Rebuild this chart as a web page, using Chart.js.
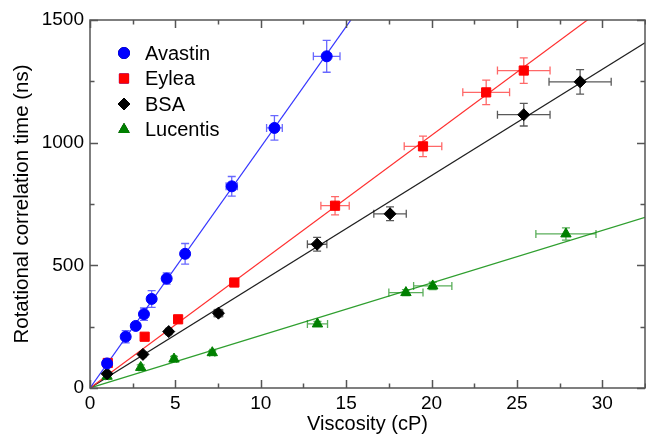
<!DOCTYPE html>
<html>
<head>
<meta charset="utf-8">
<script src="https://cdn.jsdelivr.net/npm/chart.js@4/dist/chart.umd.min.js"></script>
<style>
  html, body { margin: 0; padding: 0; background: #fff; }
  #wrap { width: 646px; height: 440px; }
</style>
</head>
<body>
<div id="wrap"><canvas id="chart" width="646" height="440"></canvas></div>
<script>
// series names and fit slopes (ns per cP)
const names = ['Avastin', 'Eylea', 'BSA', 'Lucentis']
const slopes = [98.2, 51.5, 43.3, 21.4]

const avastinX = [1.0, 2.09, 2.68, 3.16, 3.61, 4.49, 5.57, 8.3, 10.8, 13.86]
const avastinY = [100, 209, 253, 301, 363, 446, 547, 822, 1060, 1352]
const avastinXErr = [0.1, 0.15, 0.12, 0.15, 0.2, 0.15, 0.2, 0.33, 0.46, 0.78]
const avastinYErr = [15, 25, 12, 25, 34, 23, 42, 40, 50, 65]

const eyleaX = [1.04, 3.2, 5.16, 8.45, 14.35, 19.5, 23.2, 25.4]
const eyleaY = [102, 209, 280, 430, 743, 985, 1205, 1294]
const eyleaXErr = [0.1, 0, 0.1, 0.25, 0.83, 1.1, 1.37, 1.54]
const eyleaYErr = [12, 0, 8, 12, 37, 42, 50, 52]

const bsaX = [1.0, 3.1, 4.61, 7.52, 13.3, 17.57, 25.4, 28.7]
const bsaY = [58, 137, 230, 305, 586, 710, 1114, 1248]
const bsaXErr = [0.1, 0.1, 0.15, 0.25, 0.57, 0.95, 1.54, 1.82]
const bsaYErr = [8, 10, 10, 15, 28, 28, 46, 50]

const lucentisX = [1.0, 2.97, 4.92, 7.16, 13.32, 18.5, 20.07, 27.87]
const lucentisY = [48, 84, 118, 144, 261, 389, 416, 628]
const lucentisXErr = [0.1, 0.1, 0.15, 0.15, 0.59, 1.0, 1.12, 1.76]
const lucentisYErr = [10, 10, 10, 8, 10, 12, 15, 25]

const xMax = 32.5
const yMax = 1500

const FONT = 'Liberation Sans'
const colors = ['#0000ff', '#ff0000', '#000000', '#008000']
const lineColors = ['#3535ff', '#ff3030', '#202020', '#2f9f2f']
const errColors = ['rgba(40,40,255,0.7)', 'rgba(255,40,40,0.7)', 'rgba(0,0,0,0.65)', 'rgba(20,140,20,0.7)']
const shapes = ['circle', 'rect', 'rectRot', 'triangle']
const radii = [5.5, 6.5, 6, 6]

const seriesX = [avastinX, eyleaX, bsaX, lucentisX]
const seriesY = [avastinY, eyleaY, bsaY, lucentisY]
const seriesXErr = [avastinXErr, eyleaXErr, bsaXErr, lucentisXErr]
const seriesYErr = [avastinYErr, eyleaYErr, bsaYErr, lucentisYErr]

function points (xs, ys, xe, ye) {
  return xs.map((x, i) => ({ x: x, y: ys[i], xErr: xe[i], yErr: ye[i] }))
}

const datasets = []
names.forEach((name, i) => {
  datasets.push({
    type: 'line',
    label: name + ' fit',
    data: [{ x: 0, y: 0 }, { x: xMax, y: slopes[i] * xMax }],
    borderColor: lineColors[i],
    borderWidth: 1.2,
    pointRadius: 0,
    order: 10
  })
})
names.forEach((name, i) => {
  datasets.push({
    type: 'scatter',
    label: name,
    isSeries: true,
    data: points(seriesX[i], seriesY[i], seriesXErr[i], seriesYErr[i]),
    backgroundColor: colors[i],
    borderColor: colors[i],
    borderWidth: 1,
    pointStyle: shapes[i],
    pointRadius: radii[i],
    errColor: errColors[i],
    order: 1
  })
})

// x/y error bars, drawn just under each scatter dataset
const errorBars = {
  id: 'errorBars',
  beforeDatasetDraw (chart, args) {
    const ds = chart.data.datasets[args.index]
    if (!ds.isSeries) return
    const xs = chart.scales.x
    const ys = chart.scales.y
    const ctx = chart.ctx
    const cap = 4
    ctx.save()
    ctx.strokeStyle = ds.errColor
    ctx.lineWidth = 1.3
    ds.data.forEach(p => {
      const px = xs.getPixelForValue(p.x)
      const py = ys.getPixelForValue(p.y)
      ctx.beginPath()
      if (p.yErr > 0) {
        const y1 = ys.getPixelForValue(p.y - p.yErr)
        const y2 = ys.getPixelForValue(p.y + p.yErr)
        ctx.moveTo(px, y1); ctx.lineTo(px, y2)
        ctx.moveTo(px - cap, y1); ctx.lineTo(px + cap, y1)
        ctx.moveTo(px - cap, y2); ctx.lineTo(px + cap, y2)
      }
      if (p.xErr > 0) {
        const x1 = xs.getPixelForValue(p.x - p.xErr)
        const x2 = xs.getPixelForValue(p.x + p.xErr)
        ctx.moveTo(x1, py); ctx.lineTo(x2, py)
        ctx.moveTo(x1, py - cap); ctx.lineTo(x1, py + cap)
        ctx.moveTo(x2, py - cap); ctx.lineTo(x2, py + cap)
      }
      ctx.stroke()
    })
    ctx.restore()
  }
}

// box around the plot with inward ticks on all four sides
const frame = {
  id: 'frame',
  afterDatasetsDraw (chart) {
    const { ctx, chartArea: a } = chart
    const xs = chart.scales.x
    const ys = chart.scales.y
    ctx.save()
    ctx.strokeStyle = '#555'
    ctx.lineWidth = 1.5
    ctx.strokeRect(a.left, a.top, a.right - a.left, a.bottom - a.top)
    ctx.beginPath()
    for (let v = 0; v <= xMax; v += 2.5) {
      const len = v % 5 === 0 ? 8 : 4.5
      const px = Math.round(xs.getPixelForValue(v)) + 0.5
      ctx.moveTo(px, a.bottom); ctx.lineTo(px, a.bottom - len)
      ctx.moveTo(px, a.top); ctx.lineTo(px, a.top + len)
    }
    for (let v = 0; v <= yMax; v += 250) {
      const len = v % 500 === 0 ? 8 : 4.5
      const py = Math.round(ys.getPixelForValue(v)) + 0.5
      ctx.moveTo(a.left, py); ctx.lineTo(a.left + len, py)
      ctx.moveTo(a.right, py); ctx.lineTo(a.right - len, py)
    }
    ctx.stroke()
    ctx.restore()
  }
}

// legend inside the plot, top left
const insideLegend = {
  id: 'insideLegend',
  afterDraw (chart) {
    const ctx = chart.ctx
    const a = chart.chartArea
    const rows = chart.data.datasets.filter(d => d.isSeries)
    ctx.save()
    ctx.font = '20px "' + FONT + '"'
    ctx.textBaseline = 'middle'
    rows.forEach((ds, i) => {
      const y = a.top + 33 + i * 25.5
      const x = a.left + 34
      Chart.helpers.drawPoint(ctx, {
        pointStyle: ds.pointStyle,
        radius: ds.pointRadius,
        borderWidth: 1
      }, x, y)
      ctx.fillStyle = ds.backgroundColor
      ctx.strokeStyle = ds.borderColor
      ctx.fill()
      ctx.stroke()
      ctx.fillStyle = '#000'
      ctx.fillText(ds.label, x + 21, y + 1)
    })
    ctx.restore()
  }
}

new Chart(document.getElementById('chart'), {
  type: 'scatter',
  data: { datasets: datasets },
  options: {
    responsive: false,
    animation: false,
    layout: { autoPadding: false, padding: { top: 20, right: 1, left: 0, bottom: 0 } },
    plugins: {
      legend: { display: false },
      tooltip: { enabled: false }
    },
    scales: {
      x: {
        type: 'linear',
        min: 0,
        max: xMax,
        border: { display: false },
        grid: { display: false, drawTicks: false },
        ticks: {
          stepSize: 5,
          includeBounds: false,
          padding: 4,
          color: '#000',
          font: { family: FONT, size: 19 },
          callback: v => String(v)
        },
        title: {
          display: true,
          text: 'Viscosity (cP)',
          color: '#000',
          font: { family: FONT, size: 20 },
          padding: { top: 0, bottom: 4 }
        },
        afterFit (scale) {
          scale.height = 52
          scale.paddingLeft = 0
          scale.paddingRight = 0
        }
      },
      y: {
        type: 'linear',
        min: 0,
        max: yMax,
        border: { display: false },
        grid: { display: false, drawTicks: false },
        ticks: {
          stepSize: 500,
          padding: 6,
          color: '#000',
          font: { family: FONT, size: 19 },
          callback: v => String(v)
        },
        title: {
          display: true,
          text: 'Rotational correlation time (ns)',
          color: '#000',
          font: { family: FONT, size: 20.5 },
          padding: { top: 10, bottom: 0 }
        },
        afterFit (scale) {
          scale.width = 90
          scale.paddingTop = 0
          scale.paddingBottom = 0
        }
      }
    }
  },
  plugins: [errorBars, frame, insideLegend]
})
</script>
</body>
</html>
